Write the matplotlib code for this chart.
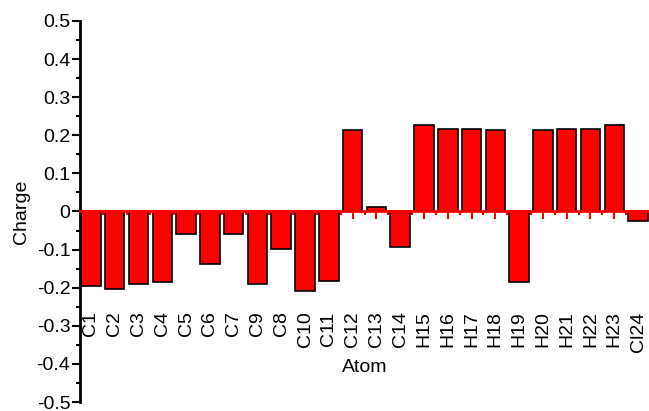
import numpy as np
import matplotlib
matplotlib.use("Agg")
import matplotlib.pyplot as plt
from matplotlib.ticker import MultipleLocator, FuncFormatter, FixedLocator

plt.rcParams['font.family'] = ['Liberation Sans', 'DejaVu Sans']

# atom labels and charges
atoms = ['C1', 'C2', 'C3', 'C4', 'C5', 'C6', 'C7', 'C9', 'C8', 'C10', 'C11', 'C12',
         'C13', 'C14', 'H15', 'H16', 'H17', 'H18', 'H19', 'H20', 'H21', 'H22', 'H23', 'Cl24']
charges = [-0.196, -0.204, -0.191, -0.186, -0.060, -0.139, -0.060, -0.191, -0.099, -0.209,
           -0.183, 0.215, 0.013, -0.094, 0.228, 0.217, 0.217, 0.215, -0.186, 0.215,
           0.217, 0.217, 0.228, -0.026]

fig = plt.figure(figsize=(6.49, 4.11), dpi=100)
ax = fig.add_axes([80 / 649, 9 / 411, 569 / 649, 381 / 411])

x = np.arange(len(atoms))
ax.bar(x, charges, width=0.82, color='#ff0000', edgecolor='black', linewidth=1.2, zorder=2)

ax.set_xlim(-0.46, len(atoms) - 0.54)
ax.set_ylim(-0.5, 0.5)

# red zero axis with ticks, labels pushed down below the bars
ax.spines['top'].set_visible(False)
ax.spines['right'].set_visible(False)
ax.spines['bottom'].set_position(('data', 0))
ax.spines['bottom'].set_color('red')
ax.spines['bottom'].set_linewidth(2)
ax.spines['bottom'].set_zorder(3)
ax.spines['left'].set_linewidth(2)

ax.set_xticks(x)
ax.set_xticklabels(atoms, rotation=90, fontsize=14)
ax.xaxis.set_minor_locator(FixedLocator(x[:-1] + 0.5))
ax.tick_params(axis='x', which='major', direction='out', length=6, width=1.5,
               color='red', pad=66)
ax.tick_params(axis='x', which='minor', direction='out', length=3, width=1.5, color='red')

ax.yaxis.set_major_locator(MultipleLocator(0.1))
ax.yaxis.set_minor_locator(MultipleLocator(0.05))
ax.yaxis.set_major_formatter(FuncFormatter(lambda v, p: '0' if abs(v) < 1e-9 else '%.1f' % v))
ax.tick_params(axis='y', which='major', length=6, width=1.5, labelsize=14, pad=1)
ax.tick_params(axis='y', which='minor', length=3, width=1.5)

ax.set_ylabel('Charge', fontsize=14, labelpad=5)
ax.text(0.5, -0.41, 'Atom', transform=ax.get_yaxis_transform(), ha='center',
        va='center', fontsize=14)

fig.savefig('out.png', dpi=100)
